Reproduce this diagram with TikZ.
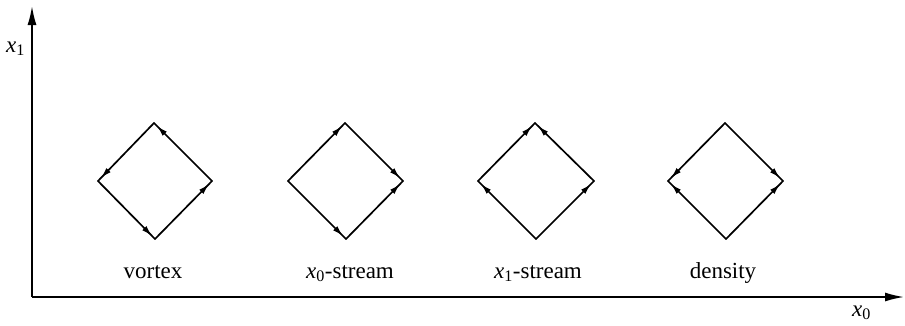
\documentclass[tikz,border=0pt]{standalone}
\usepackage{fontspec}
\setmainfont{Liberation Serif}
\usetikzlibrary{arrows.meta,decorations.markings}
\tikzset{
  edge/.style={line width=1.7pt, line cap=round},
  flow/.style={edge, postaction={decorate},
    decoration={markings, mark=at position 0.95 with {\arrow{Latex[length=11pt,width=6pt]}}}},
  axis/.style={line width=1.7pt, -{Latex[length=19pt,width=9pt]}},
  lbl/.style={font=\fontsize{23}{27}\selectfont, inner sep=0pt, anchor=base},
}
\newcommand{\sub}[1]{\textit{x}\textsubscript{#1}}
\begin{document}
\begin{tikzpicture}[x=1pt,y=-1pt]
\useasboundingbox (0,0) rectangle (905,325);
% axes
\coordinate (O) at (32,297);
\coordinate (ytip) at (32,6);
\coordinate (xtip) at (904,297);
\draw[axis] (O) -- (ytip);
\draw[axis] (O) -- (xtip);
\node[lbl, anchor=base west] (lx1) at (6,52) {\sub{1}};
\node[lbl, anchor=base west] (lx0) at (852,316) {\sub{0}};
% diamond 1: vortex
\coordinate (d1t) at (154,123); \coordinate (d1l) at (98,181);
\coordinate (d1b) at (155,239); \coordinate (d1r) at (212,181);
\draw[flow] (d1t) -- (d1l);
\draw[flow] (d1l) -- (d1b);
\draw[flow] (d1b) -- (d1r);
\draw[flow] (d1r) -- (d1t);
% diamond 2: x0-stream
\coordinate (d2t) at (345,123); \coordinate (d2l) at (288,181);
\coordinate (d2b) at (346,239); \coordinate (d2r) at (403,181);
\draw[flow] (d2l) -- (d2t);
\draw[flow] (d2t) -- (d2r);
\draw[flow] (d2l) -- (d2b);
\draw[flow] (d2b) -- (d2r);
% diamond 3: x1-stream
\coordinate (d3t) at (535,123); \coordinate (d3l) at (478,181);
\coordinate (d3b) at (536,239); \coordinate (d3r) at (594,181);
\draw[flow] (d3b) -- (d3l);
\draw[flow] (d3l) -- (d3t);
\draw[flow] (d3b) -- (d3r);
\draw[flow] (d3r) -- (d3t);
% diamond 4: density
\coordinate (d4t) at (725,123); \coordinate (d4l) at (668,181);
\coordinate (d4b) at (726,239); \coordinate (d4r) at (783,181);
\draw[flow] (d4t) -- (d4l);
\draw[flow] (d4t) -- (d4r);
\draw[flow] (d4b) -- (d4l);
\draw[flow] (d4b) -- (d4r);
% labels
\node[lbl] (l1) at (153,278) {vortex};
\node[lbl] (l2) at (350,278) {\sub{0}-stream};
\node[lbl] (l3) at (538,278) {\sub{1}-stream};
\node[lbl] (l4) at (723,278) {density};
\end{tikzpicture}
\end{document}
